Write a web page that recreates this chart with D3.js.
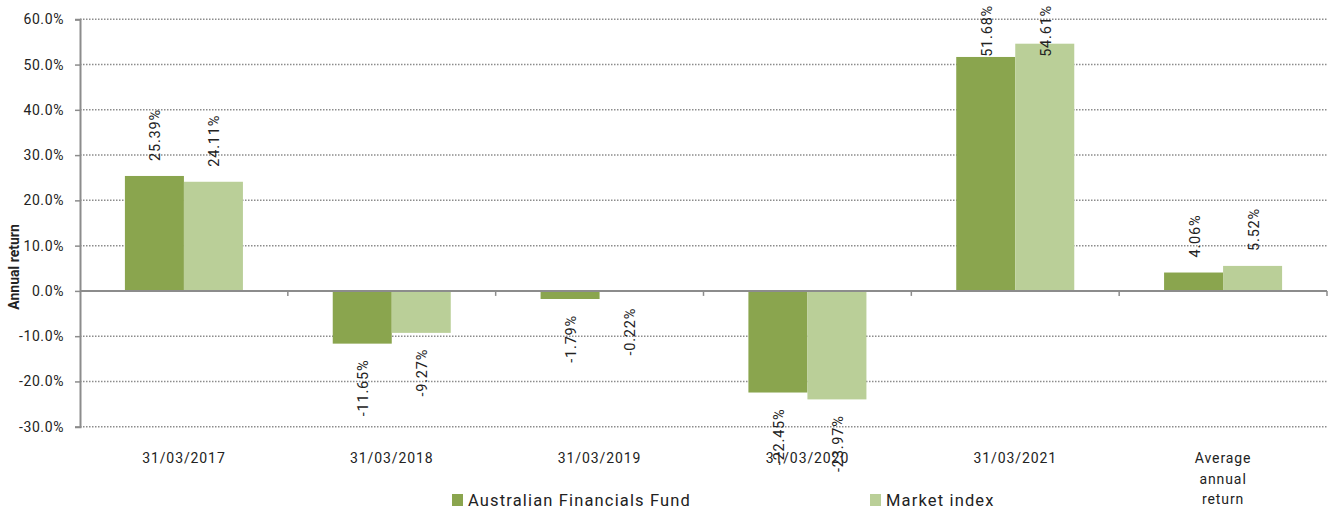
<!DOCTYPE html>
<html>
<head>
<meta charset="utf-8">
<script src="https://cdn.jsdelivr.net/npm/d3@7"></script>
<style>
  body { margin: 0; background: #fff; }
  text { font-family: Roboto, "Noto Sans", sans-serif; fill: #222; }
</style>
</head>
<body>
<div id="chart"></div>
<script>
// data
var categories = ["31/03/2017", "31/03/2018", "31/03/2019", "31/03/2020", "31/03/2021", "Average annual return"];
var seriesNames = ["Australian Financials Fund", "Market index"];
var fundValues = [25.39, -11.65, -1.79, -22.45, 51.68, 4.06];
var indexValues = [24.11, -9.27, -0.22, -23.97, 54.61, 5.52];
var yTicks = [-30, -20, -10, 0, 10, 20, 30, 40, 50, 60];
var colors = ["#8aa54e", "#bacf98"];

var width = 1328, height = 512;
var plotLeft = 80, plotRight = 1327, plotTop = 19.3, plotBottom = 426.7;

var svg = d3.select("#chart").append("svg")
  .attr("width", width)
  .attr("height", height);

var y = d3.scaleLinear().domain([-30, 60]).range([plotBottom, plotTop]);
var x0 = d3.scaleBand().domain(categories).range([plotLeft, plotRight]);
var x1 = d3.scaleBand().domain(seriesNames).range([0, x0.bandwidth()]).paddingInner(0).paddingOuter(0.761);

// gridlines (dotted)
svg.append("g").selectAll("line")
  .data(yTicks.filter(function(d) { return d !== 0; }))
  .enter().append("line")
    .attr("x1", plotLeft).attr("x2", plotRight)
    .attr("y1", function(d) { return y(d); })
    .attr("y2", function(d) { return y(d); })
    .attr("stroke", "#8c8c8c")
    .attr("stroke-width", 1.5)
    .attr("stroke-dasharray", "1.5,1.5");

// y axis
var yAxis = d3.axisLeft(y).tickValues(yTicks).tickSize(5).tickPadding(11)
  .tickFormat(function(d) { return d.toFixed(1) + "%"; });
var ga = svg.append("g").attr("transform", "translate(" + plotLeft + ",0)").call(yAxis);
ga.select(".domain").attr("stroke", "#8c8c8c").attr("stroke-width", 2);
ga.selectAll(".tick line").attr("stroke", "#8c8c8c").attr("stroke-width", 1.5);
ga.selectAll(".tick text").style("font-size", "14px").style("letter-spacing", "0.6px").attr("fill", "#222");

// rows of bars
var rows = categories.map(function(c, i) {
  return { cat: c, vals: [{ s: seriesNames[0], v: fundValues[i] }, { s: seriesNames[1], v: indexValues[i] }] };
});

var groups = svg.append("g").selectAll("g")
  .data(rows).enter().append("g")
  .attr("transform", function(d) { return "translate(" + x0(d.cat) + ",0)"; });

groups.selectAll("rect")
  .data(function(d) { return d.vals; })
  .enter().append("rect")
    .attr("x", function(d) { return x1(d.s); })
    .attr("width", x1.bandwidth())
    .attr("y", function(d) { return y(Math.max(0, d.v)); })
    .attr("height", function(d) { return Math.abs(y(d.v) - y(0)); })
    .attr("fill", function(d, i) { return colors[i]; });

// data labels, rotated
groups.selectAll("text.lbl")
  .data(function(d) { return d.vals; })
  .enter().append("text")
    .attr("class", "lbl")
    .style("font-size", "14.5px")
    .style("letter-spacing", "0.8px")
    .attr("dy", "0.35em")
    .attr("text-anchor", function(d) { return d.v >= 0 ? "start" : "end"; })
    .text(function(d) { return d.v.toFixed(2) + "%"; })
    .each(function(d) {
      var len = this.getComputedTextLength();
      var cx = x1(d.s) + x1.bandwidth() / 2 + 1;
      var ay;
      if (d.v >= 0) {
        ay = y(d.v) - 15;
        if (ay - len < 5) ay = 5 + len;
      } else {
        ay = y(d.v) + 16;
      }
      d3.select(this).attr("transform", "translate(" + cx + "," + ay + ") rotate(-90)");
    });

// x axis at zero
svg.append("line")
  .attr("x1", plotLeft).attr("x2", plotRight)
  .attr("y1", y(0)).attr("y2", y(0))
  .attr("stroke", "#8c8c8c").attr("stroke-width", 2);

svg.append("g").selectAll("line")
  .data(categories.slice(1).concat(["end"]))
  .enter().append("line")
    .attr("x1", function(d, i) { return x0(categories[0]) + x0.step() * (i + 1); })
    .attr("x2", function(d, i) { return x0(categories[0]) + x0.step() * (i + 1); })
    .attr("y1", y(0)).attr("y2", y(0) + 5)
    .attr("stroke", "#8c8c8c").attr("stroke-width", 1.5);

// category labels
var xl = svg.append("g").selectAll("text")
  .data(categories).enter().append("text")
    .attr("text-anchor", "middle")
    .style("font-size", "14px")
    .style("letter-spacing", "0.9px")
    .attr("x", function(d) { return x0(d) + x0.bandwidth() / 2; })
    .attr("y", 463);
xl.each(function(d) {
  var words = d === "Average annual return" ? ["Average", "annual", "return"] : [d];
  var t = d3.select(this);
  words.forEach(function(w, i) {
    t.append("tspan").attr("x", t.attr("x")).attr("dy", i === 0 ? 0 : 20.5).text(w);
  });
});

// y axis title
svg.append("text")
  .attr("transform", "translate(19,267) rotate(-90)")
  .attr("text-anchor", "middle")
  .style("font-size", "14px")
  .style("font-weight", "bold")
  .text("Annual return");

// legend
var legendX = [452, 870];
var lg = svg.append("g").selectAll("g")
  .data(seriesNames).enter().append("g")
  .attr("transform", function(d, i) { return "translate(" + legendX[i] + ",494)"; });
lg.append("rect").attr("width", 11).attr("height", 12)
  .attr("fill", function(d, i) { return colors[i]; });
lg.append("text").attr("x", 16).attr("y", 12)
  .style("font-size", "16.5px")
  .style("letter-spacing", "1.15px")
  .text(function(d) { return d; });
</script>
</body>
</html>
